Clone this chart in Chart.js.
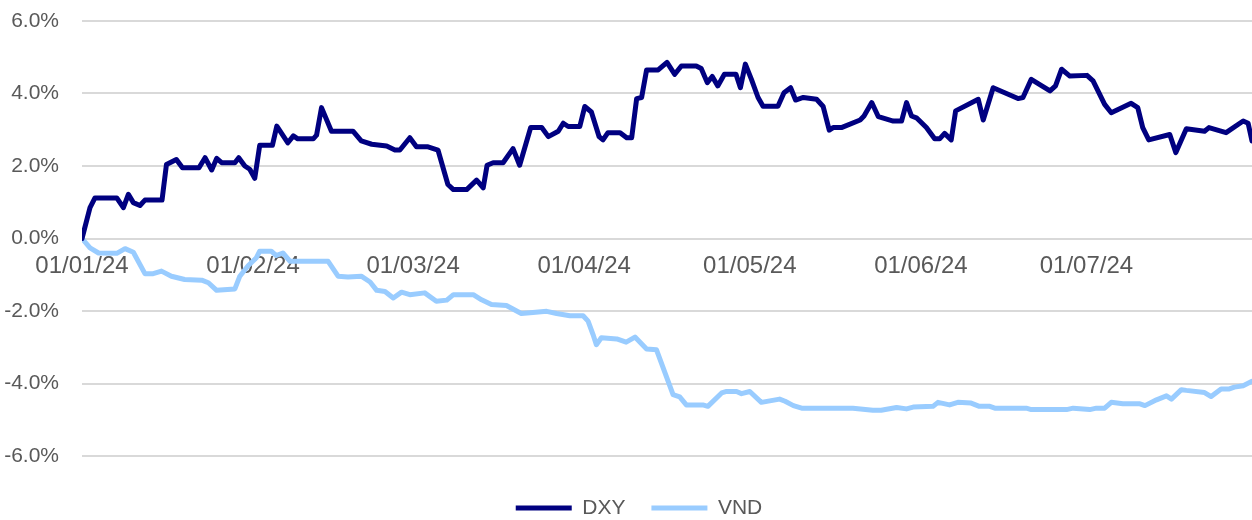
<!DOCTYPE html>
<html>
<head>
<meta charset="utf-8">
<title>DXY vs VND</title>
<script src="https://cdn.jsdelivr.net/npm/chart.js@4"></script>
<style>
    html, body { margin: 0; padding: 0; background: #ffffff; }
    #wrap { width: 1252px; height: 520px; }
</style>
</head>
<body>
<div id="wrap"><canvas id="fxChart"></canvas></div>
<script>
// days counted from 01/01/24
const tickDays = [0, 31, 60, 91, 121, 152, 182];
const tickLabels = ["01/01/24", "01/02/24", "01/03/24", "01/04/24", "01/05/24", "01/06/24", "01/07/24"];

const dxyDays = [0, 1.45, 2.35, 6.3, 7.5, 8.4, 9.3, 10.5, 11.4, 14.5, 15.3, 17.1, 18.2, 21.2, 22.3, 23.5, 24.4, 25.3, 27.7, 28.4,
    29.5, 30.4, 31.3, 32.2, 34.5, 35.3, 37.3, 38.3, 39.1, 41.9, 42.5, 43.4, 45.2, 49.1, 50.6, 52.5, 55.2, 56.7, 57.6, 59.4,
    60.6, 62.7, 64.5, 66.3, 67.3, 69.7, 71.5, 72.7, 73.4, 74.5, 76.3, 78.1, 79.3, 81.3, 83.3, 84.5, 86.3, 87.2, 88.1, 90.2,
    91.1, 92.3, 93.7, 94.4, 95.3, 97.5, 98.7, 99.6, 100.5, 101.4, 102.3, 104.4, 106, 107.4, 108.6, 111.3, 112.2, 113.3, 114.2, 115.2,
    116.4, 118.5, 119.3, 120.2, 121.3, 122.5, 123.4, 126.1, 127.2, 128.4, 129.3, 130.7, 133.1, 134.3, 135.4, 136.1, 137.6, 141, 141.7, 143.1,
    144.3, 147, 148.5, 149.4, 150.3, 151.2, 153, 154.5, 155.4, 156.3, 157.5, 158.3, 162.4, 163.3, 165.1, 169.6, 170.5, 172, 175.4, 176.4,
    177.5, 179, 182.1, 183.2, 185.3, 186.5, 190.1, 191.3, 192.2, 193.3, 197.1, 198.2, 200.1, 203.4, 204.2, 207.3, 210.4, 211.3, 212];
const dxyValues = [0, 0.85, 1.12, 1.12, 0.85, 1.22, 0.99, 0.91, 1.06, 1.06, 2.04, 2.18, 1.95, 1.95, 2.23, 1.89, 2.21, 2.09, 2.09, 2.23,
    2.0, 1.91, 1.66, 2.57, 2.57, 3.1, 2.64, 2.83, 2.75, 2.75, 2.85, 3.61, 2.96, 2.96, 2.69, 2.6, 2.55, 2.44, 2.44, 2.78,
    2.53, 2.53, 2.44, 1.49, 1.35, 1.35, 1.61, 1.4, 2.02, 2.09, 2.09, 2.48, 2.02, 3.06, 3.06, 2.81, 2.96, 3.18, 3.09, 3.09,
    3.64, 3.49, 2.81, 2.72, 2.92, 2.92, 2.78, 2.78, 3.86, 3.89, 4.65, 4.65, 4.86, 4.53, 4.76, 4.76, 4.69, 4.3, 4.47, 4.21,
    4.53, 4.53, 4.16, 4.81, 4.39, 3.89, 3.65, 3.65, 4.02, 4.16, 3.82, 3.89, 3.84, 3.64, 2.99, 3.06, 3.06, 3.27, 3.38, 3.75,
    3.36, 3.24, 3.24, 3.75, 3.38, 3.33, 3.06, 2.75, 2.75, 2.9, 2.72, 3.52, 3.84, 3.27, 4.16, 3.86, 3.89, 4.39, 4.07, 4.21,
    4.67, 4.48, 4.5, 4.35, 3.7, 3.47, 3.73, 3.61, 3.06, 2.72, 2.87, 2.37, 3.03, 2.96, 3.06, 2.92, 3.24, 3.18, 2.69];

const vndDays = [0, 1.45, 3, 6.3, 7.8, 9.3, 11.4, 12.9, 14.4, 16.2, 18.6, 21.7, 22.9, 24.4, 27.7, 28.6, 30.1, 31.6, 32.2, 34.3,
    35.2, 36.4, 37.7, 44.6, 46.4, 48.2, 50.6, 52.2, 53.4, 54.9, 56.4, 57.9, 59.4, 62.1, 64.2, 66.1, 67.3, 70.9, 72.4, 74.2,
    76.9, 79.6, 81.7, 84.2, 86, 88.4, 90.8, 91.7, 92.6, 93.2, 94.1, 96.9, 98.6, 100.2, 102.3, 104.1, 107.1, 108.3, 109.5, 112.5,
    113.4, 115.9, 116.8, 118.6, 119.5, 121, 123.1, 126.4, 127.4, 128.9, 130.4, 139.7, 143.3, 144.8, 147.6, 149.4, 150.6, 154.2, 155.1, 157.2,
    158.7, 161.1, 162.6, 164.5, 165.4, 171.1, 172, 178.4, 179.6, 182.6, 183.8, 185.3, 186.5, 188.6, 191.7, 192.6, 194.7, 196.5, 197.4, 199.2,
    200.1, 203.4, 204.6, 206.4, 207.9, 208.8, 210.4, 212];
const vndValues = [0, -0.26, -0.4, -0.41, -0.28, -0.38, -0.97, -0.97, -0.9, -1.04, -1.13, -1.15, -1.22, -1.43, -1.39, -1.04, -0.75, -0.53, -0.35, -0.35,
    -0.47, -0.4, -0.63, -0.63, -1.04, -1.06, -1.04, -1.2, -1.43, -1.46, -1.64, -1.48, -1.55, -1.5, -1.73, -1.7, -1.55, -1.55, -1.69, -1.82,
    -1.85, -2.07, -2.04, -2.01, -2.07, -2.13, -2.13, -2.28, -2.65, -2.93, -2.74, -2.77, -2.86, -2.72, -3.05, -3.07, -4.31, -4.37, -4.59, -4.59,
    -4.63, -4.26, -4.22, -4.22, -4.28, -4.22, -4.52, -4.43, -4.49, -4.61, -4.68, -4.68, -4.74, -4.74, -4.66, -4.7, -4.65, -4.63, -4.52, -4.59,
    -4.52, -4.54, -4.63, -4.63, -4.68, -4.68, -4.72, -4.72, -4.68, -4.72, -4.68, -4.68, -4.52, -4.56, -4.56, -4.61, -4.45, -4.34, -4.43, -4.17,
    -4.19, -4.25, -4.36, -4.15, -4.15, -4.1, -4.06, -3.94];

const TEXT_COLOR = "#595959";
const FONT_FAMILY = "'Liberation Sans', Arial, sans-serif";

function toPoints(days, values) {
    return days.map((d, i) => ({ x: d, y: values[i] }));
}

const ctx = document.getElementById("fxChart").getContext("2d");

new Chart(ctx, {
    type: "line",
    data: {
        datasets: [
            {
                label: "DXY",
                data: toPoints(dxyDays, dxyValues),
                borderColor: "#000080",
                backgroundColor: "#000080",
                borderWidth: 5,
                borderCapStyle: "round",
                borderJoinStyle: "round",
                pointRadius: 0,
                tension: 0
            },
            {
                label: "VND",
                data: toPoints(vndDays, vndValues),
                borderColor: "#99ccff",
                backgroundColor: "#99ccff",
                borderWidth: 5,
                borderCapStyle: "round",
                borderJoinStyle: "round",
                pointRadius: 0,
                tension: 0
            }
        ]
    },
    options: {
        responsive: true,
        maintainAspectRatio: false,
        animation: false,
        layout: {
            // negative right padding shifts the legend centre right, the plot still ends at the canvas edge
            padding: { top: 21, right: -26, left: 0, bottom: -8.5 }
        },
        scales: {
            x: {
                type: "linear",
                min: 0,
                max: 212,
                position: { y: 0 },
                grid: { display: false, drawTicks: false },
                border: { display: false },
                afterBuildTicks: scale => {
                    scale.ticks = tickDays.map(v => ({ value: v }));
                },
                afterFit: scale => {
                    scale.paddingRight = 0;
                },
                ticks: {
                    autoSkip: false,
                    maxRotation: 0,
                    padding: 13.5,
                    color: TEXT_COLOR,
                    font: { family: FONT_FAMILY, size: 24 },
                    callback: value => tickLabels[tickDays.indexOf(value)]
                }
            },
            y: {
                min: -6,
                max: 6,
                afterFit: scale => {
                    scale.width = 82;
                    scale.paddingTop = 0;
                    scale.paddingBottom = 0;
                },
                grid: { color: "#d9d9d9", lineWidth: 2, drawTicks: false },
                border: { display: false },
                ticks: {
                    stepSize: 2,
                    padding: 23,
                    color: TEXT_COLOR,
                    font: { family: FONT_FAMILY, size: 21 },
                    callback: value => value.toFixed(1) + "%"
                }
            }
        },
        plugins: {
            legend: {
                position: "bottom",
                title: {
                    display: true,
                    text: "",
                    font: { size: 10, lineHeight: 1 },
                    padding: { top: 5.5, bottom: 0 }
                },
                labels: {
                    usePointStyle: true,
                    pointStyle: "line",
                    pointStyleWidth: 56,
                    boxHeight: 21,
                    padding: 26,
                    color: TEXT_COLOR,
                    font: { family: FONT_FAMILY, size: 21 }
                }
            },
            tooltip: { enabled: false }
        }
    }
});
</script>
</body>
</html>
